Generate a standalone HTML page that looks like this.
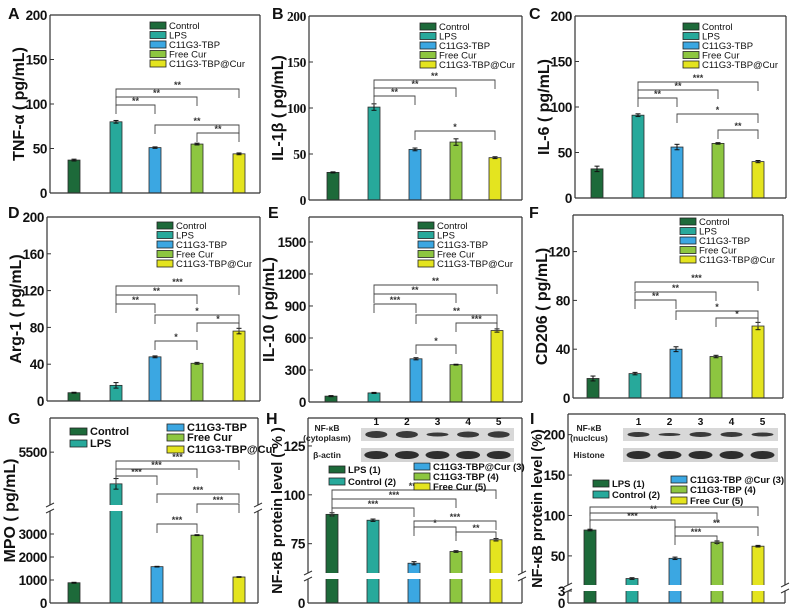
<!DOCTYPE html>
<html><head><meta charset="utf-8">
<style>
body{margin:0;background:#fff;}
svg{display:block;font-family:"Liberation Sans",Arial,sans-serif;}
</style></head>
<body>
<svg id="fig" width="792" height="616" viewBox="0 0 792 616"></svg>
<script>
const groupNames=["Control","LPS","C11G3-TBP","Free Cur","C11G3-TBP@Cur"];
const colors=["#1d6a3a","#27a99b","#3ba7e2","#8dc640","#e4e41f"];
const valsA=[37,80,51,55,44]; const errA=[1,1.5,0.8,1,1];
const valsB=[30,101,55,63,46]; const errB=[0.6,3.5,1.5,3.5,1];
const valsC=[32,91,56,60,40]; const errC=[3,1.5,3,0.8,1.2];
const valsD=[9,17,48,41,76]; const errD=[0.5,3,1,1,3];
const valsE=[55,85,405,350,670]; const errE=[5,5,10,4,15];
const valsF=[16,20,40,34,59]; const errF=[2,1,2,1,3];
const valsG=[880,4780,1580,2950,1130]; const errG=[20,120,15,20,15];
const valsH=[90,87,65,71,77]; const errH=[0.8,0.6,0.8,0.4,0.6];
const valsI=[82,22,47,67,62]; const errI=[1,1,1.5,1.5,1];
const ticksA=[0,50,100,150,200];
const ticksD=[0,40,80,120,160,200];
const ticksE=[0,300,600,900,1200,1500];
const ticksF=[0,40,80,120];
const ticksG=[0,1000,2000,3000,5500];
const ticksH=[0,75,100,125];
const ticksI=[0,3,50,100,150,200];
const legendH=["LPS (1)","Control (2)","C11G3-TBP@Cur (3)","C11G3-TBP (4)","Free Cur (5)"];
const legendI=["LPS (1)","Control (2)","C11G3-TBP  @Cur (3)","C11G3-TBP (4)","Free Cur (5)"];

const NS="http://www.w3.org/2000/svg";
const svg=document.getElementById('fig');
function mk(tag,attrs,parent){const e=document.createElementNS(NS,tag);for(const k in attrs)e.setAttribute(k,attrs[k]);(parent||svg).appendChild(e);return e;}
function txt(s,attrs,parent){const e=mk('text',attrs,parent);e.textContent=s;return e;}
function linScale(segs){return v=>{for(const s of segs){if(v>=s[0]&&v<=s[1])return s[2]+(v-s[0])/(s[1]-s[0])*(s[3]-s[2]);}const s=segs[segs.length-1];return s[2]+(v-s[0])/(s[1]-s[0])*(s[3]-s[2]);};}

function panel(p){
  const g=mk('g',{});
  
  
  const y=linScale(p.segs);
  const ff=p.serif?'"Liberation Serif",serif':'"Liberation Sans",sans-serif';
  p.vals.forEach((v,i)=>{
    const x=p.xs[i],w=12,top=y(v),base=y(0);
    const r=mk('rect',{x:x-w/2,y:top,width:w,height:base-top,fill:colors[i],stroke:'#2a2a2a','stroke-width':0.8},g);
    
    
    const e=p.errs[i];
    const et=y(v+e),eb=y(v-e);
    mk('line',{x1:x,x2:x,y1:et,y2:eb,stroke:'#111','stroke-width':1},g);
    mk('line',{x1:x-2.5,x2:x+2.5,y1:et,y2:et,stroke:'#111','stroke-width':1},g);
    mk('line',{x1:x-2.5,x2:x+2.5,y1:eb,y2:eb,stroke:'#111','stroke-width':1},g);
  });
  if(p.brk){
    mk('rect',{x:p.x0+1,y:p.brk[0],width:p.x1-p.x0-2,height:p.brk[1]-p.brk[0],fill:'#fff'},g);
    [p.x0,p.x1].forEach(xx=>{
      mk('rect',{x:xx-4,y:p.brk[0],width:8,height:p.brk[1]-p.brk[0],fill:'#fff'},g);
      mk('line',{x1:xx-4,y1:p.brk[0]+2,x2:xx+4,y2:p.brk[0]-2,stroke:'#333','stroke-width':1},g);
      mk('line',{x1:xx-4,y1:p.brk[1]+2,x2:xx+4,y2:p.brk[1]-2,stroke:'#333','stroke-width':1},g);
    });
  }
  const segsY=p.brk?[[p.y0,p.brk[0]],[p.brk[1],p.y1]]:[[p.y0,p.y1]];
  mk('line',{x1:p.x0,x2:p.x1,y1:p.y0,y2:p.y0,stroke:'#333','stroke-width':1.2},g);
  mk('line',{x1:p.x0,x2:p.x1,y1:p.y1,y2:p.y1,stroke:'#333','stroke-width':1.2},g);
  segsY.forEach(s=>{
    mk('line',{x1:p.x0,x2:p.x0,y1:s[0],y2:s[1],stroke:'#333','stroke-width':1.2},g);
    mk('line',{x1:p.x1,x2:p.x1,y1:s[0],y2:s[1],stroke:'#333','stroke-width':1.2},g);
  });
  p.ticks.forEach(t=>{
    const yy=y(t);
    mk('line',{x1:p.x0,x2:p.x0+4,y1:yy,y2:yy,stroke:'#333','stroke-width':1},g);
    const l=txt(String(t),{x:p.x0-3,y:yy+5,'text-anchor':'end','font-size':13.5,'letter-spacing':'-0.4','font-weight':'bold','font-family':ff,fill:'#111'},g);
    
    
  });
  const cy=(p.y0+p.y1)/2;
  const tx=p.x0-(p.wide?35:26);
  const tt=txt(p.title,{x:tx,y:cy,'text-anchor':'middle','font-size':p.tf||16,'font-weight':'bold',fill:'#111',transform:'rotate(-90 '+tx+' '+cy+')'},g);
  
  
  const lt=txt(p.letter,{x:p.lx,y:p.ly,'font-size':16,'font-weight':'bold',fill:'#111'},g);
  
  
  p.br.forEach(b=>{
    const xa=p.xs[b[0]],xb=p.xs[b[1]],yy=b[2];
    mk('path',{d:`M${xa},${yy+9}V${yy}H${xb}V${yy+9}`,fill:'none',stroke:'#444','stroke-width':0.9},g);
    txt(b[3],{x:(xa+xb)/2,y:yy-1,'text-anchor':'middle','font-size':9,'font-weight':'bold',fill:'#333'},g);
  });
  p.leg.forEach(L=>{
    const e=mk('g',{},g);
    
    
    mk('rect',{x:L[0],y:L[1],width:p.lw||16,height:7,fill:colors[L[3]],stroke:'#222','stroke-width':0.8},e);
    txt(L[2],{x:L[0]+(p.lw||16)+3,y:L[1]+7,'font-size':p.lf||9.5,fill:'#111','font-weight':p.lf?'bold':'normal'},e);
  });
}
function stdLeg(x,y,dy){return groupNames.map((n,i)=>[x,y+i*dy,n,i]);}

panel({letter:'A',lx:8,ly:19,title:'TNF-α ( pg/mL)',x0:50,x1:260,y0:15,y1:193,segs:[[0,200,193,15]],
  xs:[74,116,155,197,239],vals:valsA,errs:errA,ticks:ticksA,
  br:[[1,2,105,'**'],[1,3,97,'**'],[1,4,89,'**'],[2,4,125,'**'],[3,4,133,'**']],leg:stdLeg(150,22,9.5)});
panel({letter:'B',lx:272,ly:19,title:'IL-1β ( pg/mL)',serif:true,x0:309,x1:522,y0:16,y1:200,segs:[[0,200,200,16]],
  xs:[333,374,415,456,495],vals:valsB,errs:errB,ticks:ticksA,
  br:[[1,2,96,'**'],[1,3,88,'**'],[1,4,80,'**'],[2,4,131,'*']],leg:stdLeg(420,23,9.5)});
panel({letter:'C',lx:529,ly:19,title:'IL-6 ( pg/mL)',x0:575,x1:786,y0:16,y1:198,segs:[[0,200,198,16]],
  xs:[597,638,677,718,758],vals:valsC,errs:errC,ticks:ticksA,
  br:[[1,2,98,'**'],[1,3,90,'**'],[1,4,82,'***'],[2,4,114,'*'],[3,4,130,'**']],leg:stdLeg(683,23,9.5)});
panel({letter:'D',lx:8,ly:218,title:'Arg-1 ( pg/mL)',x0:47,x1:260,y0:217,y1:401,segs:[[0,200,401,217]],
  xs:[74,116,155,197,239],vals:valsD,errs:errD,ticks:ticksD,
  br:[[1,4,286,'***'],[1,3,295,'**'],[1,2,304,'**'],[2,4,315,'*'],[3,4,323,'*'],[2,3,341,'*']],leg:stdLeg(157,222,9.5)});
panel({letter:'E',lx:268,ly:218,wide:true,title:'IL-10 ( pg/mL)',x0:309,x1:522,y0:217,y1:402,segs:[[0,1734,402,217]],
  xs:[331,374,416,456,497],vals:valsE,errs:errE,ticks:ticksE,
  br:[[1,4,285,'**'],[1,3,294,'**'],[1,2,304,'***'],[2,4,315,'**'],[3,4,323,'***'],[2,3,345,'*']],leg:stdLeg(418,222,9.5)});
panel({letter:'F',lx:529,ly:218,title:'CD206 ( pg/mL)',x0:573,x1:783,y0:215,y1:398,segs:[[0,150,398,215]],
  xs:[593,635,676,716,758],vals:valsF,errs:errF,ticks:ticksF,
  br:[[1,4,282,'***'],[1,3,292,'**'],[1,2,300,'**'],[2,4,311,'*'],[3,4,318,'*']],leg:stdLeg(680,218,9.5)});
panel({letter:'G',lx:8,ly:424,wide:true,title:'MPO ( pg/mL)',x0:50,x1:258,y0:418,y1:603,segs:[[0,4000,603,511],[4300,6275,505,418]],brk:[505,511],
  xs:[74,116,157,197,239],vals:valsG,errs:errG,ticks:ticksG,lf:11,lw:17,
  br:[[1,2,476,'***'],[1,3,469,'***'],[1,4,461,'***'],[2,4,494,'***'],[3,4,504,'***'],[2,3,524,'***']],
  leg:[[70,428,'Control',0],[70,440,'LPS',1],[167,424,'C11G3-TBP',2],[167,434,'Free Cur',3],[167,446,'C11G3-TBP@Cur',4]]});
panel({letter:'H',lx:266,ly:424,tf:14.5,title:'NF-κB protein level ( % )',x0:308,x1:522,y0:418,y1:603,segs:[[0,30,603,579],[60,139.3,573,418]],brk:[573,579],
  xs:[332,373,414,456,496],vals:valsH,errs:errH,ticks:ticksH,lf:9.5,
  br:[[0,2,508,'***'],[0,3,499,'***'],[0,4,490,'***'],[2,4,521,'***'],[2,3,527,'*'],[3,4,532,'**']],
  leg:[[329,466,legendH[0],0],[329,478,legendH[1],1],[414,463,legendH[2],2],[414,473,legendH[3],3],[414,483,legendH[4],4]]});
panel({letter:'I',lx:530,ly:424,tf:14.5,title:'NF-κB protein level (%)',x0:568,x1:785,y0:414,y1:603,segs:[[0,3,603,591],[14,228,585,412]],brk:[585,591],
  xs:[590,632,675,717,758],vals:valsI,errs:errI,ticks:ticksI,lf:9.5,
  br:[[0,4,507,'**'],[0,3,513,'**'],[0,2,520,'***'],[2,4,527,'**'],[2,3,536,'***']],
  leg:[[593,480,legendI[0],0],[593,491,legendI[1],1],[671,476,legendI[2],2],[671,486,legendI[3],3],[671,497,legendI[4],4]]});

function blot(x,y,w,labels,bands1){
  const g=mk('g',{});
  
  
  mk('rect',{x:x,y:y,width:w,height:13,fill:'#d8d8d8'},g);
  mk('rect',{x:x,y:y+20,width:w,height:14,fill:'#d4d4d4'},g);
  for(let i=0;i<5;i++){
    const cx=x+w*(i+0.5)/5;
    txt(String(i+1),{x:cx,y:y-3,'text-anchor':'middle','font-size':10,'font-weight':'bold',fill:'#111'},g);
    mk('ellipse',{cx:cx,cy:y+6.5,rx:11,ry:bands1[i],fill:'#3a3a3a'},g);
    mk('ellipse',{cx:cx,cy:y+27,rx:12,ry:4,fill:'#2e2e2e'},g);
  }
  txt(labels[0],{x:x-34,y:y+3,'text-anchor':'middle','font-size':8.5,'font-weight':'bold',fill:'#222'},g);
  txt(labels[1],{x:x-34,y:y+13,'text-anchor':'middle','font-size':8.5,'font-weight':'bold',fill:'#222'},g);
  txt(labels[2],{x:x-34,y:y+30,'text-anchor':'middle','font-size':8.5,'font-weight':'bold',fill:'#222'},g);
}
blot(361,428,153,['NF-κB','(cytoplasm)','β-actin'],[3.5,3.5,2,3,3.2]);
blot(623,428,155,['NF-κB','(nuclcus)','Histone'],[2.5,1.5,2.5,2.5,2]);
</script>
</body></html>
